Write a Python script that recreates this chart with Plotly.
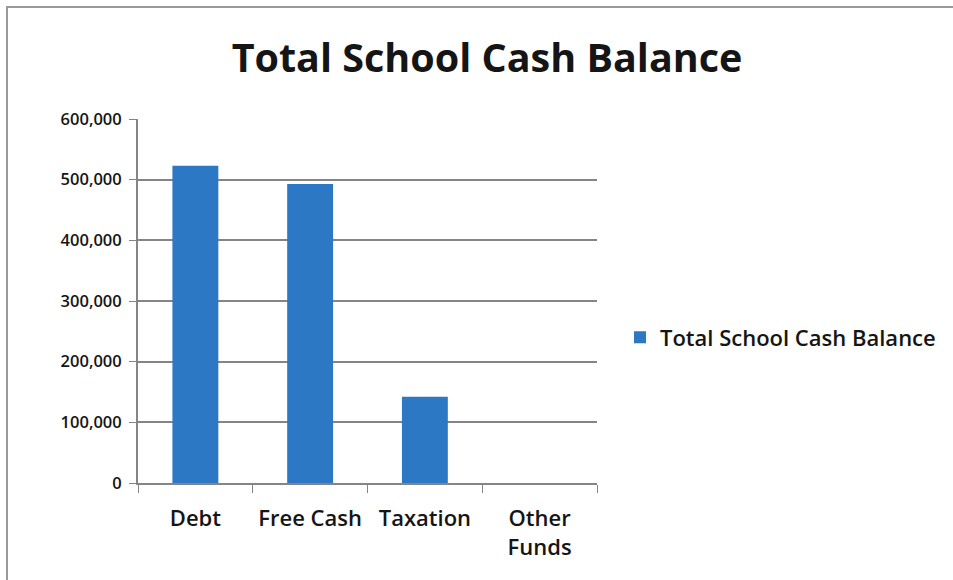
import plotly.graph_objects as go

categories = ["Debt", "Free Cash", "Taxation", "Other<br>Funds"]
balances = [523000, 493000, 142000, 0]
series_name = "Total School Cash Balance"
y_ticks = [0, 100000, 200000, 300000, 400000, 500000, 600000]
y_tick_text = ["0", "100,000", "200,000", "300,000", "400,000", "500,000", "600,000"]

font_family = "'Open Sans', Lato, sans-serif"
text_color = "#151515"
bar_color = "#2d78c4"
axis_color = "#858585"

fig = go.Figure(
    go.Bar(
        x=categories,
        y=balances,
        name=series_name,
        marker=dict(color=bar_color, line=dict(width=0)),
        showlegend=True,
    )
)

fig.update_layout(
    width=953,
    height=580,
    margin=dict(l=138, r=356, t=119, b=97, autoexpand=False),
    paper_bgcolor="white",
    plot_bgcolor="white",
    bargap=0.6,
    font=dict(family=font_family, color=text_color, size=22, weight=600),
    title=dict(
        text="<b>" + series_name + "</b>",
        x=487 / 953,
        xanchor="center",
        y=1 - 58 / 580,
        yanchor="middle",
        font=dict(size=39.5, family=font_family, color=text_color),
    ),
    legend=dict(
        x=(620 - 138) / 459,
        y=0.40,
        xanchor="left",
        yanchor="middle",
        font=dict(size=22, weight=600),
        bgcolor="rgba(0,0,0,0)",
    ),
    xaxis=dict(
        type="category",
        tickson="boundaries",
        ticks="outside",
        ticklen=8,
        tickcolor=axis_color,
        showline=True,
        linecolor=axis_color,
        linewidth=2,
        showgrid=False,
        tickangle=0,
        ticklabelstandoff=15,
        tickfont=dict(size=22, weight=600),
        automargin=False,
    ),
    yaxis=dict(
        range=[0, 600000],
        tickvals=y_ticks,
        ticktext=y_tick_text,
        ticks="outside",
        ticklen=7,
        tickcolor=axis_color,
        showline=True,
        linecolor=axis_color,
        linewidth=2,
        showgrid=True,
        gridcolor=axis_color,
        gridwidth=1.5,
        zeroline=False,
        ticklabelstandoff=4,
        tickfont=dict(size=16.5, weight=600),
        automargin=False,
    ),
    shapes=[
        # outer chart frame: top and left edges
        dict(type="line", xref="paper", yref="paper",
             x0=(6 - 138) / 459, x1=(953 - 138) / 459,
             y0=(483 - 7) / 364, y1=(483 - 7) / 364,
             line=dict(color="#9a9a9a", width=2)),
        dict(type="line", xref="paper", yref="paper",
             x0=(7 - 138) / 459, x1=(7 - 138) / 459,
             y0=(483 - 7) / 364, y1=(483 - 580) / 364,
             line=dict(color="#9a9a9a", width=2)),
    ],
)

fig.write_html("out.html")
